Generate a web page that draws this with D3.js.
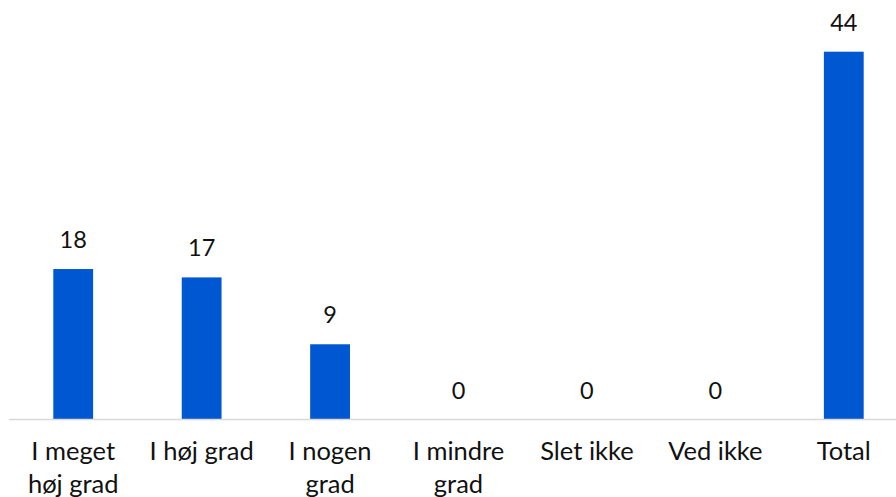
<!DOCTYPE html>
<html>
<head>
<meta charset="utf-8">
<script src="https://cdn.jsdelivr.net/npm/d3@7"></script>
<style>
  html, body { margin: 0; padding: 0; background: #fff; }
  svg { display: block; font-family: Lato, "Open Sans", sans-serif; }
</style>
</head>
<body>
<div id="chart"></div>
<script>
// Chart data
const categories = ['I meget høj grad', 'I høj grad', 'I nogen grad', 'I mindre grad', 'Slet ikke', 'Ved ikke', 'Total'];
const values = [18, 17, 9, 0, 0, 0, 44];

const width = 896;
const height = 497;
const barColor = '#0057d2';

const svg = d3.select('#chart')
    .append('svg')
    .attr('width', width)
    .attr('height', height);

// Band scale runs a little past the right edge, as in the original
const x = d3.scaleBand()
    .domain(categories)
    .range([9, 908])
    .paddingInner(0.69)
    .paddingOuter(0.345);

const y = d3.scaleLinear()
    .domain([0, 44])
    .range([419.5, 51.7]);

// Bars
svg.append('g')
    .selectAll('rect')
    .data(values)
    .join('rect')
    .attr('x', (d, i) => x(categories[i]))
    .attr('y', d => y(d))
    .attr('width', x.bandwidth())
    .attr('height', d => y(0) - y(d))
    .attr('fill', barColor);

// Baseline
svg.append('line')
    .attr('x1', 9)
    .attr('x2', width)
    .attr('y1', y(0))
    .attr('y2', y(0))
    .attr('stroke', '#d9d9d9')
    .attr('stroke-width', 1.5);

// Value labels
svg.append('g')
    .selectAll('text')
    .data(values)
    .join('text')
    .attr('x', (d, i) => x(categories[i]) + x.bandwidth() / 2)
    .attr('y', d => y(d) - 21)
    .attr('text-anchor', 'middle')
    .attr('font-size', '23.5px')
    .attr('fill', '#111')
    .text(d => d);

// Category labels, wrapped to fit the band
const xAxis = svg.append('g')
    .attr('transform', `translate(0,${y(0)})`)
    .call(d3.axisBottom(x).tickSize(0).tickPadding(0));
xAxis.select('.domain').remove();
xAxis.selectAll('text')
    .attr('font-size', '25.5px')
    .attr('font-family', 'Lato, "Open Sans", sans-serif')
    .attr('fill', '#111')
    .attr('dy', null)
    .attr('y', 40.5)
    .call(wrap, 112);

function wrap(texts, maxWidth) {
    texts.each(function () {
        const text = d3.select(this);
        const words = text.text().split(/\s+/);
        const yPos = text.attr('y');
        text.text(null);
        let line = [];
        let lineNo = 0;
        let tspan = text.append('tspan').attr('x', 0).attr('y', yPos);
        words.forEach(word => {
            line.push(word);
            tspan.text(line.join(' '));
            if (tspan.node().getComputedTextLength() > maxWidth && line.length > 1) {
                line.pop();
                tspan.text(line.join(' '));
                line = [word];
                lineNo++;
                tspan = text.append('tspan')
                    .attr('x', 0)
                    .attr('y', yPos)
                    .attr('dy', lineNo * 33 + 'px')
                    .text(word);
            }
        });
    });
}
</script>
</body>
</html>
